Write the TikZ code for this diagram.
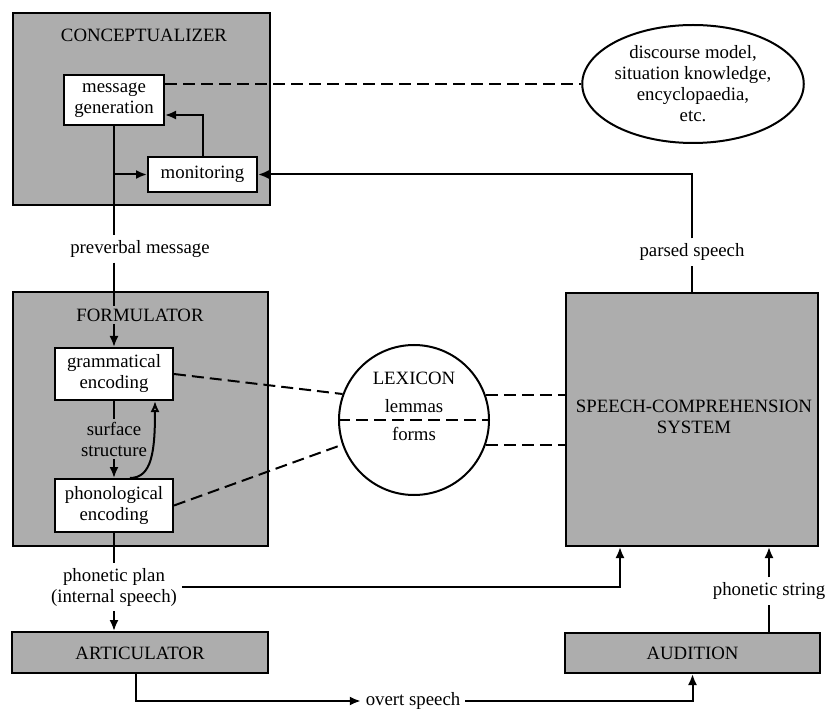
\documentclass[tikz,border=0pt]{standalone}
\usepackage{fontspec}
\setmainfont{Liberation Serif}
\usetikzlibrary{arrows.meta,shapes.geometric}

\definecolor{zonegray}{gray}{0.68}

\begin{document}
\begin{tikzpicture}
		[
		x=0.5pt, y=-0.5pt, font=\fontsize{9.4}{10.5}\selectfont, >={Latex[length=5.5pt,width=4.5pt]},
		line width=1pt,
		%Stile
		zone/.style={draw, fill=zonegray, inner sep=0pt},
		box/.style={draw, fill=white, inner sep=0pt, align=center},
		lbl/.style={fill=white, inner sep=2pt, align=center},
		ttl/.style={fill=zonegray, inner sep=1pt, align=center},
		dsh/.style={dash pattern=on 6pt off 3pt}
		]
		
		%Rahmen
		\useasboundingbox (0,0) rectangle (830,711);
		
		%Grosse Bereiche
		\node[zone, minimum width=128.5pt, minimum height=96pt] (concept) at (141.5,109) {};
		\node[zone, minimum width=127.5pt, minimum height=127pt] (form) at (140.5,419) {};
		\node[zone, minimum width=126pt, minimum height=126.5pt] (scs) at (692,419.5) {};
		\node[zone, minimum width=128pt, minimum height=20.5pt] (art) at (140,652.5) {};
		\node[zone, minimum width=127.5pt, minimum height=20pt] (aud) at (692.5,653) {};
		
		%Titel
		\node[ttl] (ctitle) at (144,35) {CONCEPTUALIZER};
		\node[ttl] (ftitle) at (140,315) {FORMULATOR};
		\node[ttl] (stitle) at (694,417) {SPEECH-COMPREHENSION\\SYSTEM};
		\node[ttl] (atitle) at (140,653) {ARTICULATOR};
		\node[ttl] (dtitle) at (692.5,653) {AUDITION};
		
		%Innere Kaesten
		\node[box, minimum width=50pt, minimum height=25pt] (mg) at (114,100) {message\\generation};
		\node[box, minimum width=54.5pt, minimum height=17.5pt] (mon) at (202.5,174.5) {monitoring};
		\node[box, minimum width=59pt, minimum height=26pt] (gc) at (114,374) {grammatical\\encoding};
		\node[box, minimum width=59pt, minimum height=26.5pt] (pe) at (114,505.5) {phonological\\encoding};
		
		%Wissen
		\node[ellipse, draw, fill=white, minimum width=101pt, minimum height=59pt, inner sep=0pt, align=center] (know) at (693,84) {discourse model,\\situation knowledge,\\encyclopaedia,\\etc.};
		
		%Lexikon
		\node[circle, draw, fill=white, minimum size=75pt, inner sep=0pt] (lex) at (414,420) {};
		\node (lexname) at (414,378) {LEXICON};
		\node (lemmas) at (414,406) {lemmas};
		\node (forms) at (414,434) {forms};
		\draw[dsh] (lex.west) -- (lex.east);
		
		%Beschriftungen
		\node[lbl] (pv) at (140,249) {preverbal message};
		\node[ttl] (surf) at (114,439) {surface\\structure};
		\node[lbl] (plan) at (114,587) {phonetic plan\\(internal speech)};
		\node[lbl] (parsed) at (692,252) {parsed speech};
		\node[lbl] (pstr) at (769,591) {phonetic string};
		\node[lbl] (overt) at (413,701) {overt speech};
		
		%Konzeptualisierer
		\draw[->] (mg.south |- mon.west) -- (mon.west);
		\draw[->] (mon.north) |- ([yshift=-7.5pt]mg.east);
		\draw[dsh] (mg.east |- know.west) -- (know.west);
		
		%Praeverbale Botschaft
		\draw (mg.south) -- (mg.south |- pv.north);
		\draw (mg.south |- pv.south) -- (mg.south |- ftitle.north);
		\draw[->] (mg.south |- ftitle.south) -- (gc.north);
		
		%Formulator
		\draw (gc.south) -- (surf.north);
		\draw[->] (surf.south) -- (pe.north);
		\draw[-{Latex[open,length=5.5pt,width=4.5pt]}] ([xshift=8pt]pe.north) .. controls +(22,0) and +(0,50) .. ([xshift=20.5pt]gc.south);
		
		%Lexikon Verbindungen
		\draw[dsh] (gc.east) -- (lex.160);
		\draw[dsh] (pe.east) -- (lex.199);
		\draw[dsh] (lex.19) -- (lex.19 -| scs.west);
		\draw[dsh] (lex.-19) -- (lex.-19 -| scs.west);
		
		%Phonetischer Plan
		\draw (pe.south) -- (plan.north);
		\draw[->] (plan.south) -- (plan.south |- art.north);
		\draw[->] (plan.east) -| ([xshift=-36pt]scs.south);
		
		%Sprechen und Hoeren
		\draw[->] ([xshift=-2pt]art.south) |- (overt.west);
		\draw[->] (overt.east) -| (aud.south);
		\draw (pstr.south |- aud.north) -- (pstr.south);
		\draw[->] (pstr.north) -- (pstr.north |- scs.south);
		
		%Verstandene Sprache
		\draw (scs.north) -- (parsed.south);
		\draw[->] (parsed.north) |- (mon.east);
	\end{tikzpicture}
\end{document}
